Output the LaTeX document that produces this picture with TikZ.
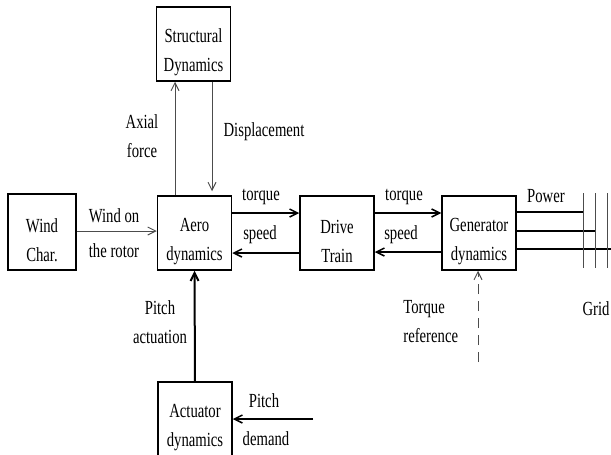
\documentclass[tikz,border=0pt]{standalone}
\usepackage{fontspec}
\setmainfont{Liberation Serif}[FakeStretch=0.735]
\usetikzlibrary{arrows.meta}
\newcommand{\topgap}{\rule{0pt}{15pt}}

\begin{document}
\begin{tikzpicture}[x=0.5pt,y=-0.5pt,
    block/.style={draw,line width=0.75pt,minimum width=37pt,minimum height=37pt,
        align=center,inner sep=0pt,font=\fontsize{10}{14.5}\selectfont},
    lbl/.style={font=\fontsize{10}{14.5}\selectfont,align=center,inner sep=0pt},
    tip/.style={-{Straight Barb[length=4pt,width=4pt]}},
    slim/.style={line width=0.5pt,black!70},
    mid/.style={line width=0.75pt},
    heavy/.style={line width=1pt}]
        \useasboundingbox (0,0) rectangle (611,455);
        \clip (0,0) rectangle (611,455);
        % blocks
        \node[block] (struct) at (193.5,44) {\topgap Structural\\Dynamics};
        \node[block, minimum width=34pt, minimum height=38pt] (wind) at (42,232) {\topgap Wind\\Char.};
        \node[block] (aero) at (194.5,233) {\topgap Aero\\dynamics};
        \node[block] (drive) at (337,233) {\topgap Drive\\Train};
        \node[block] (gen) at (479,233) {\topgap Generator\\dynamics};
        \node[block] (act) at (195,419) {\topgap Actuator\\dynamics};
        % free ends
        \coordinate (demand) at (313,419);
        \coordinate (tref) at (478,362);
        \coordinate (bus1) at (583,193);
        \coordinate (bus2) at (595,193);
        \coordinate (bus3) at (607,193);
        \coordinate (gridend) at (611,249);
        % labels
        \node[lbl] (axial) at (142,136) {Axial\\force};
        \node[lbl] (disp) at (264,132) {Displacement};
        \node[lbl] (windon) at (114,216) {Wind on};
        \node[lbl] (rotor) at (114,251) {the rotor};
        \node[lbl] (torque1) at (261,197) {torque};
        \node[lbl] (speed1) at (260,235) {speed};
        \node[lbl] (torque2) at (404,197) {torque};
        \node[lbl] (speed2) at (401,235) {speed};
        \node[lbl] (power) at (546,196) {Power};
        \node[lbl] (pitchact) at (160,322) {Pitch\\actuation};
        \node[lbl] (pitch) at (264,401) {Pitch};
        \node[lbl] (demandtxt) at (266,439) {demand};
        \node[lbl, anchor=west, align=left] (torqueref) at (403,322) {Torque\\reference};
        \node[lbl] (grid) at (596,309) {Grid};
        % connectors
        \draw[slim, tip] ([xshift=-9.75pt]aero.north) -- ([xshift=-9.75pt]aero.north |- struct.south);
        \draw[slim, tip] ([xshift=8.75pt]aero.north |- struct.south) -- ([xshift=8.75pt,yshift=2pt]aero.north);
        \draw[slim, tip] (wind.east |- 0,231) -- (aero.west |- 0,231);
        \draw[mid, tip] ([yshift=10pt]aero.east) -- ([yshift=10pt]drive.west);
        \draw[mid, tip] ([yshift=-10pt]drive.west) -- ([yshift=-10pt]aero.east);
        \draw[mid, tip] ([yshift=10pt]drive.east) -- ([yshift=10pt]gen.west);
        \draw[mid, tip] ([yshift=-9.5pt]gen.west) -- ([yshift=-9.5pt]drive.east);
        \draw[heavy, tip] (act.north) -- (aero.south);
        \draw[mid, tip] (demand) -- (act.east);
        \draw[slim, tip, dash pattern=on 5pt off 3.5pt] (tref) -- (gen.south -| tref);
        % power lines to the grid
        \draw[mid] ([yshift=10.5pt]gen.east) -- ([yshift=10.5pt]gen.east -| bus1);
        \draw[mid] ([yshift=1pt]gen.east) -- ([yshift=1pt]gen.east -| bus2);
        \draw[mid] ([yshift=-8pt]gen.east) -- (gridend);
        \draw[slim] (bus1) -- ++(0,75);
        \draw[slim] (bus2) -- ++(0,75);
        \draw[slim] (bus3) -- ++(0,75);
\end{tikzpicture}
\end{document}
